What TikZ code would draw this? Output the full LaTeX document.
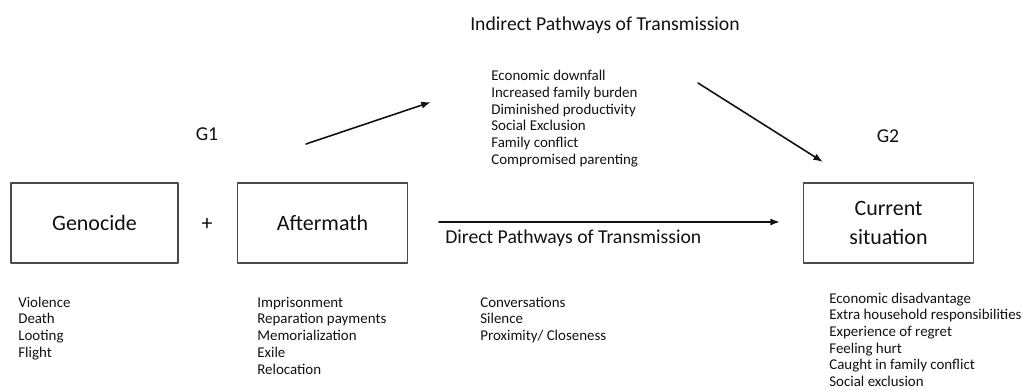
\documentclass[tikz,border=0pt]{standalone}
\usepackage{fontspec}
\setmainfont{Carlito}
\usetikzlibrary{arrows.meta,positioning}
\definecolor{ink}{HTML}{111111}
\definecolor{frame}{HTML}{4A4A4A}
\tikzset{
  >=Latex,
  every picture/.style={line cap=round, line join=round},
  every node/.style={text=ink, inner sep=0pt},
  stage/.style={
    draw=frame,
    line width=0.8pt,
    minimum width=#1,
    minimum height=45.4pt,
    align=center,
    font=\fontsize{12.5}{16.5}\selectfont
  },
  stage/.default=95pt,
  tag/.style={font=\fontsize{11.2}{13}\selectfont},
  % anchored at the baseline of the last line
  itemlist/.style={
    anchor=base west,
    align=left,
    font=\fontsize{8.5}{9.5}\selectfont
  },
  pathway/.style={->, line width=0.9pt, draw=ink, >={Latex[length=5.5pt, width=4pt]}}
}

\begin{document}
\begin{tikzpicture}[x=0.02cm, y=-0.02cm]
  \useasboundingbox (0,0) rectangle (1024,389);

  % Generations
  \node[stage] (geno) at (94.5,223) {Genocide};
  \node[stage=97pt] (after) at (322.5,223) {Aftermath};
  \node[stage=97pt] (cur) at (888.5,223) {Current\\situation};
  \node[tag, font=\fontsize{12.5}{14}\selectfont] (plus) at (207,224) {+};

  \node[tag] (g1) at (207,134) {G1};
  \node[tag] (g2) at (888,136) {G2};

  % Pathways
  \node[tag] (indtitle) at (605,25) {Indirect Pathways of Transmission};
  \node[tag, anchor=west] (dirtitle) at (445,238) {Direct Pathways of Transmission};

  \coordinate (up0) at (306,144);
  \coordinate (up1) at (431,102);
  \coordinate (dn0) at (698,83);
  \coordinate (dn1) at (823,162);
  \coordinate (dir0) at (439,222);
  \coordinate (dir1) at (780,222);

  \draw[pathway] (up0) -- (up1);
  \draw[pathway] (dn0) -- (dn1);
  \draw[pathway] (dir0) -- (dir1);

  % Lists
  \node[itemlist] (indlist) at (491,164.3) {Economic downfall\\Increased family burden\\Diminished productivity\\Social Exclusion\\Family conflict\\Compromised parenting};
  \node[itemlist] (genolist) at (18,357.3) {Violence\\Death\\Looting\\Flight};
  \node[itemlist] (afterlist) at (257,374) {Imprisonment\\Reparation payments\\Memorialization\\Exile\\Relocation};
  \node[itemlist] (dirlist) at (480,340.5) {Conversations\\Silence\\Proximity/ Closeness};
  \node[itemlist] (curlist) at (829,386.5) {Economic disadvantage\\Extra household responsibilities\\Experience of regret\\Feeling hurt\\Caught in family conflict\\Social exclusion};
\end{tikzpicture}
\end{document}
